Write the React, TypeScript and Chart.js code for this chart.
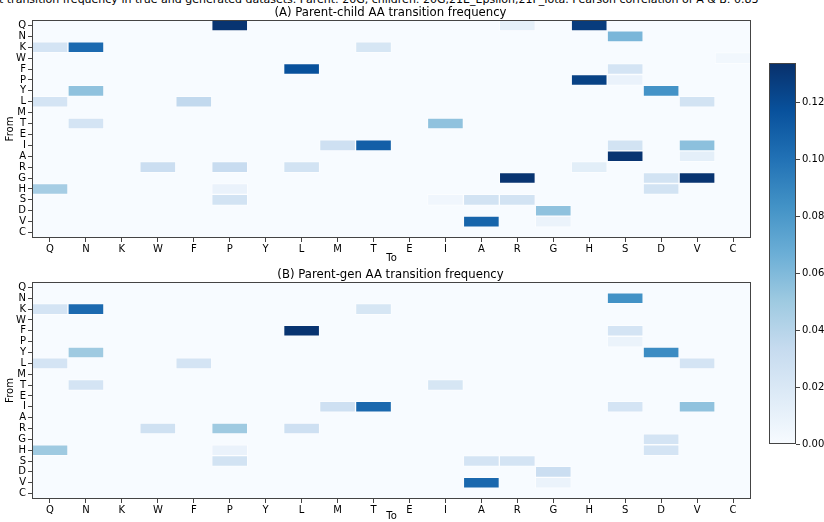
import { useEffect, useRef } from "react";
import { Chart, registerables } from "chart.js";

Chart.register(...registerables);

const FONT = "'DejaVu Sans', sans-serif";

const aminoAcids = ["Q", "N", "K", "W", "F", "P", "Y", "L", "M", "T", "E", "I", "A", "R", "G", "H", "S", "D", "V", "C"];
const colorbarTicks = [0, 0.02, 0.04, 0.06, 0.08, 0.1, 0.12];
const vmax = 0.134;

const mainTitle =
  "t transition frequency in true and generated datasets. Parent: 20G, children: 20G,21E_Epsilon,21F_Iota. Pearson correlation of A & B: 0.83";
const titleA = "(A) Parent-child AA transition frequency";
const titleB = "(B) Parent-gen AA transition frequency";

// [from, to, frequency]
const cellsA: [string, string, number][] = [
  ["Q", "P", 0.132], ["Q", "R", 0.012], ["Q", "H", 0.128],
  ["N", "S", 0.062],
  ["K", "Q", 0.024], ["K", "N", 0.104], ["K", "T", 0.022],
  ["W", "C", 0.004],
  ["F", "L", 0.117], ["F", "S", 0.024],
  ["P", "H", 0.125], ["P", "S", 0.009],
  ["Y", "N", 0.055], ["Y", "D", 0.083],
  ["L", "Q", 0.024], ["L", "F", 0.035], ["L", "V", 0.025],
  ["T", "N", 0.024], ["T", "I", 0.055],
  ["I", "M", 0.028], ["I", "T", 0.11], ["I", "S", 0.025], ["I", "V", 0.056],
  ["A", "S", 0.132], ["A", "V", 0.013],
  ["R", "W", 0.03], ["R", "P", 0.032], ["R", "L", 0.025], ["R", "H", 0.014],
  ["G", "R", 0.132], ["G", "D", 0.025], ["G", "V", 0.132],
  ["H", "Q", 0.047], ["H", "P", 0.009], ["H", "D", 0.025],
  ["S", "P", 0.025], ["S", "I", 0.005], ["S", "A", 0.025], ["S", "R", 0.025],
  ["D", "G", 0.055],
  ["V", "A", 0.107], ["V", "G", 0.008],
];

const cellsB: [string, string, number][] = [
  ["N", "S", 0.084],
  ["K", "Q", 0.024], ["K", "N", 0.104], ["K", "T", 0.022],
  ["F", "L", 0.132], ["F", "S", 0.024],
  ["P", "S", 0.008],
  ["Y", "N", 0.05], ["Y", "D", 0.087],
  ["L", "Q", 0.024], ["L", "F", 0.024], ["L", "V", 0.024],
  ["T", "N", 0.024], ["T", "I", 0.022],
  ["I", "M", 0.028], ["I", "T", 0.105], ["I", "S", 0.024], ["I", "V", 0.055],
  ["R", "W", 0.027], ["R", "P", 0.05], ["R", "L", 0.028],
  ["G", "D", 0.024],
  ["H", "Q", 0.05], ["H", "P", 0.009], ["H", "D", 0.024],
  ["S", "P", 0.025], ["S", "A", 0.024], ["S", "R", 0.024],
  ["D", "G", 0.03],
  ["V", "A", 0.105], ["V", "G", 0.008],
];

const bluesStops = ["#f7fbff", "#deebf7", "#c6dbef", "#9ecae1", "#6baed6", "#4292c6", "#2171b5", "#08519c", "#08306b"];

function hexToRgb(h: string) {
  return [parseInt(h.slice(1, 3), 16), parseInt(h.slice(3, 5), 16), parseInt(h.slice(5, 7), 16)];
}

function bluesColor(v: number) {
  const t = Math.max(0, Math.min(1, v / vmax));
  const pos = t * (bluesStops.length - 1);
  const i = Math.min(bluesStops.length - 2, Math.floor(pos));
  const f = pos - i;
  const a = hexToRgb(bluesStops[i]);
  const b = hexToRgb(bluesStops[i + 1]);
  const c = a.map((x, k) => Math.round(x + (b[k] - x) * f));
  return `rgb(${c[0]},${c[1]},${c[2]})`;
}

function buildMatrix(cells: [string, string, number][]) {
  const m = aminoAcids.map(() => aminoAcids.map(() => 0));
  cells.forEach(([from, to, v]) => {
    m[aminoAcids.indexOf(from)][aminoAcids.indexOf(to)] = v;
  });
  return m;
}

const framePlugin = {
  id: "frame",
  beforeDatasetsDraw(chart: any, _args: any, opts: any) {
    if (!opts || !opts.fill) return;
    const { ctx, chartArea } = chart;
    ctx.save();
    ctx.fillStyle = opts.fill;
    ctx.fillRect(chartArea.left, chartArea.top, chartArea.right - chartArea.left, chartArea.bottom - chartArea.top);
    ctx.restore();
  },
  afterDraw(chart: any, _args: any, opts: any) {
    const { ctx, chartArea } = chart;
    ctx.save();
    ctx.strokeStyle = "#444";
    ctx.lineWidth = 1;
    ctx.strokeRect(
      Math.round(chartArea.left) + 0.5,
      Math.round(chartArea.top) + 0.5,
      Math.round(chartArea.right - chartArea.left) - 1,
      Math.round(chartArea.bottom - chartArea.top) - 1
    );
    if (opts && opts.heading) {
      ctx.fillStyle = "#000";
      ctx.font = `11.7px ${FONT}`;
      ctx.textAlign = "center";
      ctx.textBaseline = "middle";
      ctx.fillText(opts.heading, (chartArea.left + chartArea.right) / 2 - 1, chartArea.top - 7.5);
    }
    ctx.restore();
  },
};

function heatmapConfig(cells: [string, string, number][], title: string, xAxisHeight: number): any {
  const m = buildMatrix(cells);
  const datasets = aminoAcids.map((from, r) => ({
    label: from,
    data: m[r].map((v) => (v > 0 ? [r - 0.5, r + 0.5] : null)),
    backgroundColor: m[r].map((v) => bluesColor(v)),
    borderColor: "rgba(255,255,255,0.45)",
    borderWidth: 1,
    borderSkipped: false,
    barPercentage: 1,
    categoryPercentage: 1,
    grouped: false,
  }));
  const tickFont = { family: FONT, size: 10 };
  return {
    type: "bar",
    data: { labels: aminoAcids, datasets },
    options: {
      animation: false,
      responsive: false,
      maintainAspectRatio: false,
      layout: { padding: { left: 0, right: 9, top: 20, bottom: 0 } },
      plugins: {
        legend: { display: false },
        tooltip: { enabled: false },
        frame: { fill: bluesStops[0], heading: title },
        title: { display: false },
      },
      scales: {
        x: {
          type: "category",
          offset: true,
          grid: { display: true, drawOnChartArea: false, drawTicks: true, tickLength: 4, offset: false, color: "#444" },
          border: { display: false },
          ticks: { font: tickFont, color: "#000", padding: 1, maxRotation: 0, autoSkip: false },
          title: { display: true, text: "To", color: "#000", font: tickFont, padding: { top: 0, bottom: 4 } },
          afterFit: (s: any) => {
            s.height = xAxisHeight;
          },
        },
        y: {
          type: "linear",
          reverse: true,
          min: -0.5,
          max: 19.5,
          afterBuildTicks: (s: any) => {
            s.ticks = aminoAcids.map((_, i) => ({ value: i }));
          },
          grid: { display: true, drawOnChartArea: false, drawTicks: true, tickLength: 4, color: "#444" },
          border: { display: false },
          ticks: {
            font: tickFont,
            color: "#000",
            padding: 2,
            autoSkip: false,
            callback: (v: any) => aminoAcids[Math.round(Number(v))] ?? "",
          },
          title: { display: true, text: "From", color: "#000", font: tickFont, padding: { top: 4, bottom: 0 } },
          afterFit: (s: any) => {
            s.width = 32;
          },
        },
      },
    },
    plugins: [framePlugin],
  };
}

function colorbarConfig(): any {
  return {
    type: "bar",
    data: {
      labels: ["scale"],
      datasets: [
        {
          data: [[0, vmax]],
          barPercentage: 1,
          categoryPercentage: 1,
          borderWidth: 0,
          backgroundColor: (ctx: any) => {
            const { chart } = ctx;
            const area = chart.chartArea;
            if (!area) return bluesStops[0];
            const g = chart.ctx.createLinearGradient(0, area.bottom, 0, area.top);
            bluesStops.forEach((c, i) => g.addColorStop(i / (bluesStops.length - 1), c));
            return g;
          },
        },
      ],
    },
    options: {
      animation: false,
      responsive: false,
      maintainAspectRatio: false,
      layout: { padding: { left: 9, right: 0, top: 13, bottom: 16 } },
      plugins: { legend: { display: false }, tooltip: { enabled: false }, title: { display: false }, frame: {} },
      scales: {
        x: { display: false, offset: true },
        y: {
          position: "right",
          min: 0,
          max: vmax,
          afterBuildTicks: (s: any) => {
            s.ticks = colorbarTicks.map((v) => ({ value: v }));
          },
          grid: { display: true, drawOnChartArea: false, drawTicks: true, tickLength: 4, color: "#444" },
          border: { display: false },
          ticks: {
            font: { family: FONT, size: 10 },
            color: "#000",
            padding: 2,
            autoSkip: false,
            callback: (v: any) => Number(v).toFixed(2),
          },
          afterFit: (s: any) => {
            s.width = 28;
          },
        },
      },
    },
    plugins: [framePlugin],
  };
}

function ChartCanvas({ config, style, width, height }: { config: () => any; style: any; width: number; height: number }) {
  const ref = useRef<HTMLCanvasElement | null>(null);
  useEffect(() => {
    if (!ref.current) return;
    const chart = new Chart(ref.current, config());
    return () => chart.destroy();
  }, []);
  return <canvas ref={ref} width={width} height={height} style={{ position: "absolute", width, height, ...style }} />;
}

export default function App() {
  return (
    <div
      style={{
        position: "fixed",
        left: 0,
        top: 0,
        width: 824,
        height: 522,
        overflow: "hidden",
        background: "#fff",
        fontFamily: FONT,
      }}
    >
      <div
        style={{
          position: "absolute",
          left: -1,
          top: -6,
          fontSize: 11,
          lineHeight: "12px",
          whiteSpace: "nowrap",
          color: "#000",
        }}
      >
        {mainTitle}
      </div>
      <ChartCanvas config={() => heatmapConfig(cellsA, titleA, 30)} style={{ left: 0, top: 0 }} width={760} height={268} />
      <ChartCanvas config={() => heatmapConfig(cellsB, titleB, 27)} style={{ left: 0, top: 262 }} width={760} height={264} />
      <ChartCanvas config={colorbarConfig} style={{ left: 760, top: 50 }} width={64} height={410} />
    </div>
  );
}
